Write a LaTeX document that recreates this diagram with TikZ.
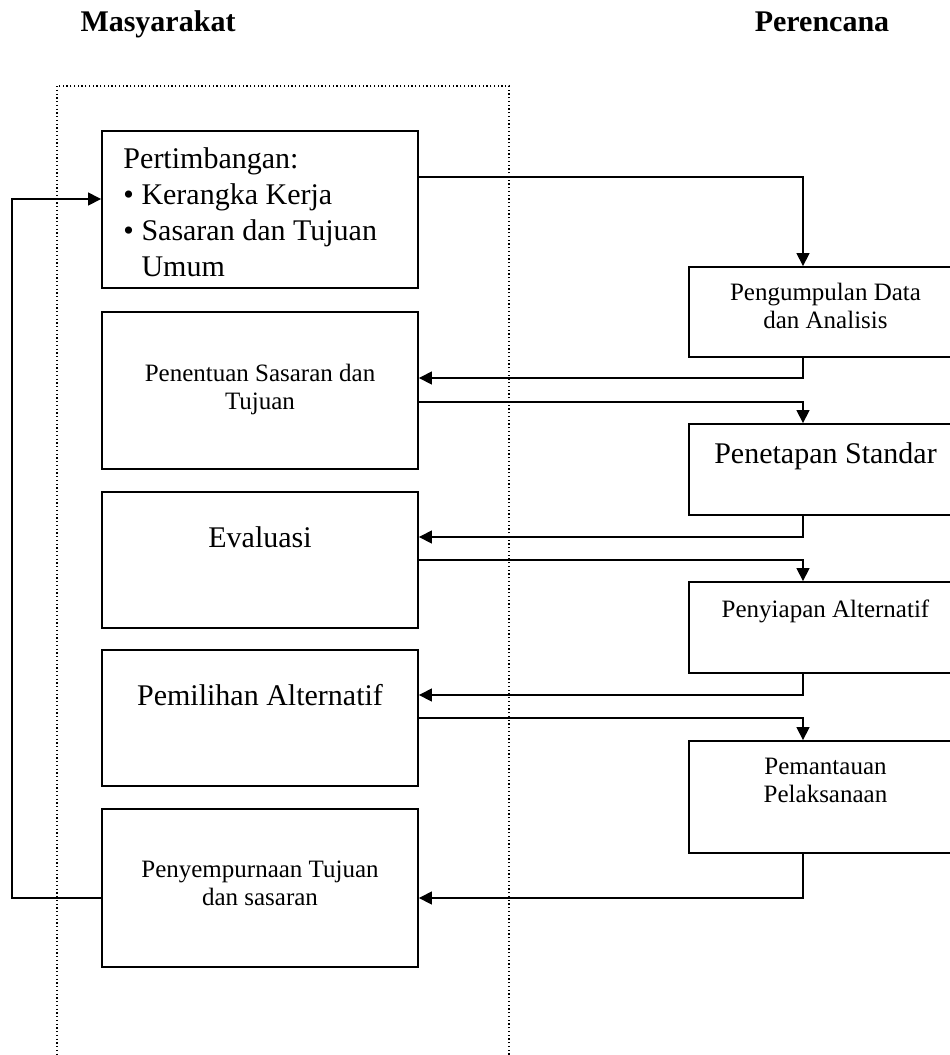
\documentclass[tikz,border=0pt]{standalone}
\usepackage{fontspec}
\setmainfont{Liberation Serif}
\usetikzlibrary{arrows.meta}
\newcommand\bigtxt{\fontsize{12}{14.4}\selectfont}
\newcommand\smalltxt{\fontsize{10}{11.5}\selectfont}
\newcommand\twolines[2]{\begin{tabular}[t]{@{}c@{}}#1\\#2\end{tabular}}
\tikzset{
  box/.style={draw, line width=0.75pt, rectangle, inner sep=0pt},
  lbox/.style={box, minimum width=126.4pt},
  rbox/.style={box, minimum width=109.2pt},
  txt/.style={inner sep=0pt, anchor=base, align=center},
  conn/.style={line width=0.6pt},
  arr/.style={conn, -{Triangle[length=5.2pt,width=5.2pt]}},
  hdr/.style={inner sep=0pt, anchor=base, font=\bigtxt\bfseries},
  lane/.style={line width=0.5pt, dash pattern=on 0.5pt off 1pt}
}
\begin{document}
\begin{tikzpicture}[x=0.4pt,y=-0.4pt]
\useasboundingbox (0,0) rectangle (950,1055);
% headers
\node[hdr] (h1) at (158,31) {Masyarakat};
\node[hdr] (h2) at (822,31) {Perencana};
% dotted lane
\draw[lane] (57,86) rectangle (509,1070);
% left boxes
\node[lbox, minimum height=62.8pt] (b1) at (260,209.5) {};
\node[lbox, minimum height=62.8pt] (b2) at (260,390.5) {};
\node[lbox, minimum height=54.4pt] (b3) at (260,560) {};
\node[lbox, minimum height=54.4pt] (b4) at (260,718) {};
\node[lbox, minimum height=63.2pt] (b5) at (260,888) {};
% right boxes
\node[rbox, minimum height=36pt] (r1) at (825.5,312) {};
\node[rbox, minimum height=36.4pt] (r2) at (825.5,469.5) {};
\node[rbox, minimum height=36.4pt] (r3) at (825.5,627.5) {};
\node[rbox, minimum height=44.8pt] (r4) at (825.5,797) {};
% texts
\node[inner sep=0pt, anchor=base west] (t1) at (123,168) {\bigtxt\begin{tabular}[t]{@{}l@{}}Pertimbangan:\\ \textbullet\ Kerangka Kerja\\ \textbullet\ Sasaran dan Tujuan\\ \hphantom{\textbullet\ }Umum\end{tabular}};
\node[txt] (t2) at (260,381) {\smalltxt\twolines{Penentuan Sasaran dan}{Tujuan}};
\node[txt] (t3) at (260,547) {\bigtxt Evaluasi};
\node[txt] (t4) at (260,705) {\bigtxt Pemilihan Alternatif};
\node[txt] (t5) at (260,877) {\smalltxt\twolines{Penyempurnaan Tujuan}{dan sasaran}};
\node[txt] (u1) at (825.5,300) {\smalltxt\twolines{Pengumpulan Data}{dan Analisis}};
\node[txt] (u2) at (825.5,463) {\bigtxt Penetapan Standar};
\node[txt] (u3) at (825.5,617) {\smalltxt Penyiapan Alternatif};
\node[txt] (u4) at (825.5,774) {\smalltxt\twolines{Pemantauan}{Pelaksanaan}};
% connector column
\coordinate (ax) at (803,0);
\coordinate (fb) at (12,0);
% connectors
\draw[arr] (b1.east |- 0,177) -| (r1.north -| ax);
\draw[arr] (r1.south -| ax) |- (b2.east |- 0,378);
\draw[arr] (b2.east |- 0,402) -| (r2.north -| ax);
\draw[arr] (r2.south -| ax) |- (b3.east |- 0,537);
\draw[arr] (b3.east |- 0,560) -| (r3.north -| ax);
\draw[arr] (r3.south -| ax) |- (b4.east |- 0,695);
\draw[arr] (b4.east |- 0,718) -| (r4.north -| ax);
\draw[arr] (r4.south -| ax) |- (b5.east |- 0,898);
\draw[arr] (b5.west |- 0,898) -| (fb |- 0,199) -- (b1.west |- 0,199);
\end{tikzpicture}
\end{document}
